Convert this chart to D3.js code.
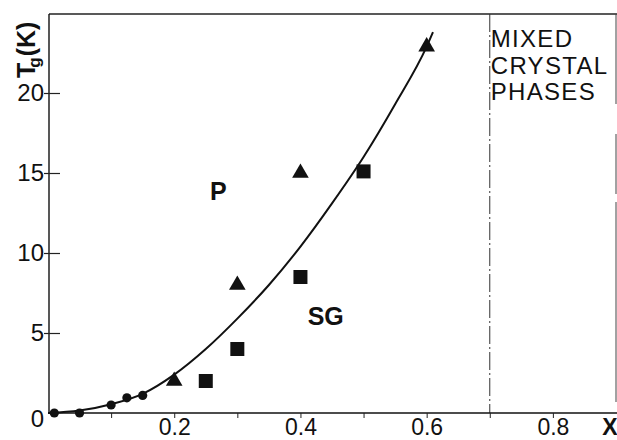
<!DOCTYPE html>
<html>
<head>
<meta charset="utf-8">
<script src="https://cdn.jsdelivr.net/npm/d3@7"></script>
<style>
  html, body { margin: 0; padding: 0; background: #fff; }
  svg { display: block; }
  text { font-family: "Liberation Sans", Arial, sans-serif; fill: #111; }
</style>
</head>
<body>
<svg id="chart" width="617" height="440"></svg>
<script>
// ---- data ----
const dotX = [0.01, 0.05, 0.10, 0.125, 0.15];
const dotY = [0.0, 0.0, 0.5, 0.95, 1.1];

const triX = [0.2, 0.3, 0.4, 0.6];
const triY = [2.0, 8.0, 15.0, 22.9];

const sqX = [0.25, 0.3, 0.4, 0.5];
const sqY = [2.0, 4.0, 8.5, 15.1];

const curveX = [0, 0.05, 0.10, 0.15, 0.20, 0.25, 0.30, 0.35, 0.40, 0.45, 0.50, 0.55, 0.60, 0.61];
const curveY = [0, 0.15, 0.55, 1.2, 2.4, 4.0, 5.9, 8.0, 10.4, 13.1, 16.0, 19.3, 22.9, 23.8];

const xTicks = [0.1, 0.2, 0.3, 0.4, 0.5, 0.6, 0.7, 0.8];
const xTickLabels = {0.2: "0.2", 0.4: "0.4", 0.6: "0.6", 0.8: "0.8"};
const yTicks = [0, 5, 10, 15, 20];
const yTickLabels = ["0", "5", "10", "15", "20"];

const mixedLimit = 0.7;
const mixedLines = ["MIXED", "CRYSTAL", "PHASES"];
const regionLabels = [{t: "P", x: 0.27, y: 13.3}, {t: "SG", x: 0.44, y: 5.5}];

// ---- drawing ----
const svg = d3.select("#chart");
const x = d3.scaleLinear().domain([0, 0.9]).range([48, 616]);
const y = d3.scaleLinear().domain([0, 25]).range([413, 13]);

const axisX0 = 49, axisY0 = 413, frameTop = 14, frameRight = 616;

// frame top and right
svg.append("line").attr("x1", axisX0).attr("x2", frameRight + 1).attr("y1", frameTop).attr("y2", frameTop)
  .attr("stroke", "#222").attr("stroke-width", 1.4);
svg.append("line").attr("x1", frameRight).attr("x2", frameRight).attr("y1", frameTop).attr("y2", axisY0)
  .attr("stroke", "#444").attr("stroke-width", 1).attr("stroke-dasharray", "90,30,60,8,200,20");

// mixed phase boundary
svg.append("line").attr("x1", x(mixedLimit)).attr("x2", x(mixedLimit))
  .attr("y1", frameTop).attr("y2", axisY0)
  .attr("stroke", "#333").attr("stroke-width", 1).attr("stroke-dasharray", "18,3,2,3");

// x axis
const xAxis = d3.axisBottom(x).tickValues(xTicks).tickSizeInner(5).tickSizeOuter(0).tickPadding(1)
  .tickFormat(d => xTickLabels[d] || "");
const gx = svg.append("g").attr("transform", `translate(0,${axisY0})`).call(xAxis);
gx.select(".domain").attr("d", `M${axisX0},0H${frameRight + 1}`).attr("stroke", "#111").attr("stroke-width", 1.6);
gx.selectAll(".tick line").attr("stroke", "#222").attr("stroke-width", 1);
gx.selectAll(".tick text").attr("font-size", 23).attr("fill", "#111").attr("dy", "0.71em")
  .attr("font-family", "Liberation Sans, Arial, sans-serif");

// x axis title
svg.append("text").attr("x", 610).attr("y", 435).attr("text-anchor", "middle")
  .attr("font-size", 23).attr("font-weight", "bold").text("X");

// y axis
const yAxis = d3.axisLeft(y).tickValues(yTicks).tickSizeInner(-11).tickSizeOuter(0).tickPadding(5)
  .tickFormat((d, i) => yTickLabels[i]);
const gy = svg.append("g").attr("transform", `translate(${axisX0},0)`).call(yAxis);
gy.select(".domain").attr("d", `M0,${frameTop}V${axisY0}`).attr("stroke", "#111").attr("stroke-width", 1.4);
gy.selectAll(".tick line").attr("stroke", "#222").attr("stroke-width", 1.2)
  .attr("x1", -5).style("display", d => d === 0 ? "none" : null);
gy.selectAll(".tick text").attr("font-size", 24).attr("fill", "#111")
  .attr("font-family", "Liberation Sans, Arial, sans-serif");
gy.selectAll(".tick").filter(d => d === 0).select("text").attr("dy", "0.55em");

// y axis title: Tg(K)
const yt = svg.append("text").attr("transform", "translate(35,78) rotate(-90)")
  .attr("font-size", 25).attr("font-weight", "bold");
yt.append("tspan").text("T");
yt.append("tspan").attr("font-size", 17).attr("dx", -5).attr("dy", 5).text("g");
yt.append("tspan").attr("dy", -5).attr("dx", 1).text("(K)");

// fitted curve
const line = d3.line().x(d => x(d[0])).y(d => y(d[1])).curve(d3.curveMonotoneX);
svg.append("path").datum(d3.zip(curveX, curveY)).attr("d", line)
  .attr("fill", "none").attr("stroke", "#111").attr("stroke-width", 2);

// dots
svg.append("g").selectAll("circle").data(d3.zip(dotX, dotY)).join("circle")
  .attr("cx", d => x(d[0])).attr("cy", d => y(d[1])).attr("r", 4.6).attr("fill", "#111");

// triangles
svg.append("g").selectAll("path").data(d3.zip(triX, triY)).join("path")
  .attr("transform", d => `translate(${x(d[0])},${y(d[1])})`)
  .attr("d", d3.symbol(d3.symbolTriangle, 120)).attr("fill", "#111");

// squares
svg.append("g").selectAll("rect").data(d3.zip(sqX, sqY)).join("rect")
  .attr("x", d => x(d[0]) - 7).attr("y", d => y(d[1]) - 7)
  .attr("width", 14).attr("height", 14).attr("fill", "#111");

// region labels
svg.append("g").selectAll("text").data(regionLabels).join("text")
  .attr("x", d => x(d.x)).attr("y", d => y(d.y)).attr("text-anchor", "middle")
  .attr("font-size", 25).attr("font-weight", "bold").text(d => d.t);

// mixed crystal phases label
svg.append("g").selectAll("text").data(mixedLines).join("text")
  .attr("x", x(mixedLimit) + 1).attr("y", (d, i) => 47 + i * 26.5)
  .attr("font-size", 24).attr("letter-spacing", 1.3).text(d => d);
</script>
</body>
</html>
